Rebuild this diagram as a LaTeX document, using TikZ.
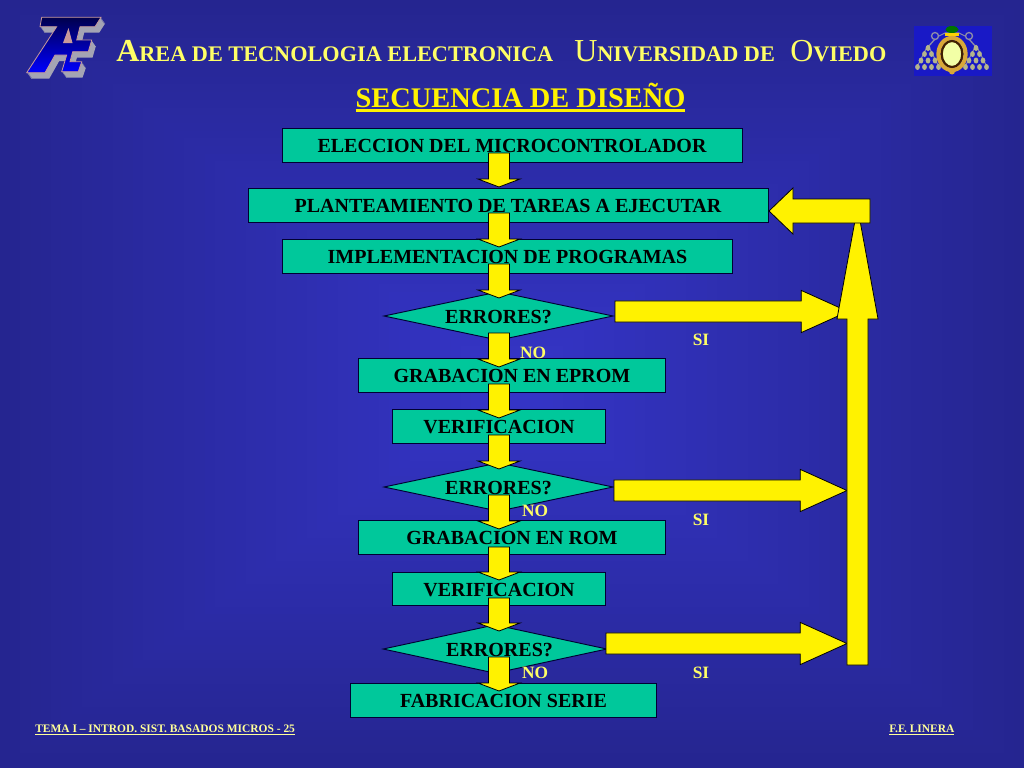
\documentclass[tikz,border=0pt]{standalone}
\usepackage{fontspec}
\setmainfont{Liberation Serif}
\usetikzlibrary{calc,shapes.geometric}
\definecolor{bgouter}{HTML}{252590}
\definecolor{bginner}{HTML}{3535C8}
\definecolor{teal1}{HTML}{00C89B}
\definecolor{ttl}{HTML}{FFFF66}
\definecolor{foot}{HTML}{FFFF99}
\definecolor{logoside}{HTML}{A4A4B4}
\definecolor{logoedge}{HTML}{C89A9A}
\definecolor{crestgold}{HTML}{D8A838}
\definecolor{crestdotc}{HTML}{B4B48C}
\definecolor{crestline}{HTML}{8C8CA8}
\newcommand{\ulbox}[3]{\vtop{\hbox{#3}\kern#1\hrule height#2}}
\newcommand{\tsc}[3]{{\fontsize{24}{24}\selectfont #1#2}{\fontsize{16.7}{16.7}\selectfont\bfseries #3}}
\tikzset{
  flowbox/.style={draw=black!80!blue,line width=.7pt,fill=teal1,inner sep=0pt,text height=11pt,text depth=0pt,font=\fontsize{15}{15}\selectfont\bfseries,text=black},
  flowdiamond/.style={flowbox,diamond,shape aspect=5},
  blockar/.style n args={3}{draw=black,fill=yellow,line width=.6pt,line join=miter,
    to path={
      ($(\tikztotarget)!#3!(\tikztostart)$) coordinate (bb)
      ($(\tikztostart)!#1!90:(\tikztotarget)$) -- ($(\tikztostart)!#1!-90:(\tikztotarget)$)
      -- ($(bb)!#1!90:(\tikztostart)$) -- ($(bb)!#2!90:(\tikztostart)$)
      -- (\tikztotarget)
      -- ($(bb)!#2!-90:(\tikztostart)$) -- ($(bb)!#1!-90:(\tikztostart)$) -- cycle
    }},
  downar/.style={blockar={7.9pt}{15.8pt}{6pt}},
  sidear/.style={blockar={7.9pt}{15.8pt}{35pt}},
  titletext/.style={anchor=base west,inner sep=0pt,text=ttl},
  tagtext/.style={anchor=center,inner sep=0pt,text=ttl,font=\fontsize{13}{13}\selectfont\bfseries},
  foottext/.style={anchor=base west,inner sep=0pt,text=foot,font=\fontsize{8.6}{8.6}\selectfont\bfseries},
}
\newcommand{\logopoly}{(41.7,17.3) -- (101,17.3) -- (95,26.7) -- (80,26.7) -- (76.7,40) -- (91.7,40) -- (88.3,51.7) -- (72.7,51.7) -- (70,61.7) -- (81.7,61.7) -- (78.3,71.7) -- (61.7,71.7) -- (66.7,55) -- (55,55) -- (45,72.7) -- (26.7,72.7) -- (56.7,26.7) -- (40,26.7) -- cycle}
\begin{document}
\begin{tikzpicture}[x=.75pt,y=-.75pt]
\useasboundingbox (0,0) rectangle (1024,768);
% background
\fill[bgouter] (0,0) rectangle (1024,768);
\foreach \i in {1,...,50}{
  \pgfmathsetmacro{\pc}{2*\i}
  \pgfmathsetmacro{\fr}{1-\i/50}
  \fill[bginner!\pc!bgouter] ({512-512*\fr},{384-384*\fr}) rectangle ({512+512*\fr},{384+384*\fr});
}
% left logo
\foreach \k in {1,...,6}{
  \fill[logoside,shift={({\k*.7},{\k*1})}] \logopoly;
}
\path[top color=black!70!blue,bottom color=blue,draw=logoedge,line width=.6pt] \logopoly;
\fill[logoedge] (68.5,28) -- (72.5,43) -- (63,43) -- cycle;
% right crest
\fill[blue!75!black!90!white] (914,26) rectangle (992,76);
\draw[crestline,line width=.8pt] (939,36) -- (945,33) -- (959,33) -- (965,36);
\draw[crestline,line width=1pt] (928,47) -- (935,39) (976,47) -- (969,39);
\draw[crestline,line width=1pt] (935,36) circle (3.5) (969,36) circle (3.5);
\foreach \cx in {928,976}{
  \draw[crestline,line width=.8pt] (\cx,45) -- ({\cx-11},67) (\cx,45) -- ({\cx+11},67);
  \foreach \r/\yy in {1/48,2/54,3/60.5,4/67}{
    \foreach \k in {1,...,\r}{
      \fill[crestdotc] ({\cx+(\k-(\r+1)/2)*7},\yy) ellipse (2.4 and 3);
    }
  }
}
\fill[green!45!black] (952,29.5) ellipse (6.5 and 3.5);
\fill[yellow!70!orange] (945,32.5) rectangle (959,35.5);
\draw[crestgold,line width=3.2pt] (952,54) ellipse (13.5 and 16);
\draw[black!75!orange,line width=1.6pt,fill=green!15!yellow!35!white] (952,54) ellipse (10.3 and 13);
\fill[crestgold] (952,71.5) circle (3);
% titles
\node[titletext] (t1) at (116,61) {\tsc{\bfseries}{A}{REA DE TECNOLOGIA ELECTRONICA}};
\node[titletext] (t2) at (574,61) {\tsc{}{U}{NIVERSIDAD DE}};
\node[titletext] (t3) at (790,61) {\tsc{}{O}{VIEDO}};
\node[anchor=base,inner sep=0pt,text=yellow,font=\fontsize{21.3}{21.3}\selectfont\bfseries] (head) at (520.5,107) {\ulbox{1.6pt}{1.6pt}{SECUENCIA DE DISEÑO}};
% boxes
\node[flowbox,minimum width=345pt,minimum height=25.5pt] (b1) at (512,145) {ELECCION DEL MICROCONTROLADOR};
\node[flowbox,minimum width=390pt,minimum height=25.5pt] (b2) at (508,205) {PLANTEAMIENTO DE TAREAS A EJECUTAR};
\node[flowbox,minimum width=338pt,minimum height=25.5pt] (b3) at (507.5,256) {IMPLEMENTACION DE PROGRAMAS};
\node[flowdiamond,minimum width=172pt,minimum height=36.5pt] (d1) at (498.5,316) {ERRORES?};
\node[flowbox,minimum width=230pt,minimum height=25.5pt] (b4) at (512,375) {GRABACION EN EPROM};
\node[flowbox,minimum width=160pt,minimum height=25pt] (b5) at (499,426.5) {VERIFICACION};
\node[flowdiamond,minimum width=172pt,minimum height=36.5pt] (d2) at (498.5,487) {ERRORES?};
\node[flowbox,minimum width=230pt,minimum height=25.5pt] (b6) at (512,537.5) {GRABACION EN ROM};
\node[flowbox,minimum width=160pt,minimum height=25pt] (b7) at (499,589) {VERIFICACION};
\node[flowdiamond,minimum width=168pt,minimum height=36.5pt] (d3) at (495,649) {\hspace{6.8pt}ERRORES?};
\node[flowbox,minimum width=230pt,minimum height=25.5pt] (b8) at (503.5,700) {FABRICACION SERIE};
% connector ends
\foreach \n/\ya/\yb in {1/153/187,2/213/247,3/264/298,4/333/367,5/384/418,6/435/469,7/495/529,8/547/580,9/598/631,10/657/691}{
  \coordinate (s\n) at (499,\ya);
  \coordinate (e\n) at (499,\yb);
}
\coordinate (r1s) at (615,311.5); \coordinate (r1e) at (848,311.5);
\coordinate (r2s) at (614,490.5); \coordinate (r2e) at (847,490.5);
\coordinate (r3s) at (606,643.5); \coordinate (r3e) at (847,643.5);
\coordinate (us) at (857.5,665); \coordinate (ue) at (857.5,207);
\coordinate (ls) at (870,211); \coordinate (le) at (769,211);
% arrows
\foreach \n in {1,...,10}{ \draw[downar] (s\n) to (e\n); }
\draw[sidear] (r1s) to (r1e);
\draw[sidear] (r2s) to (r2e);
\draw[sidear] (r3s) to (r3e);
\draw[blockar={7.9pt}{15.4pt}{84pt}] (us) to (ue);
\draw[blockar={9pt}{17.3pt}{18pt}] (ls) to (le);
% tags
\node[tagtext] (no1) at (533,353) {NO};
\node[tagtext] (no2) at (535,511) {NO};
\node[tagtext] (no3) at (535,673) {NO};
\node[tagtext] (si1) at (701,340) {SI};
\node[tagtext] (si2) at (701,519.5) {SI};
\node[tagtext] (si3) at (701,673) {SI};
% footer
\node[foottext] (f1) at (35,732.5) {\ulbox{1pt}{.6pt}{TEMA I – INTROD. SIST. BASADOS MICROS - 25}};
\node[foottext] (f2) at (889,732.5) {\ulbox{1pt}{.6pt}{F.F. LINERA}};
\end{tikzpicture}
\end{document}
